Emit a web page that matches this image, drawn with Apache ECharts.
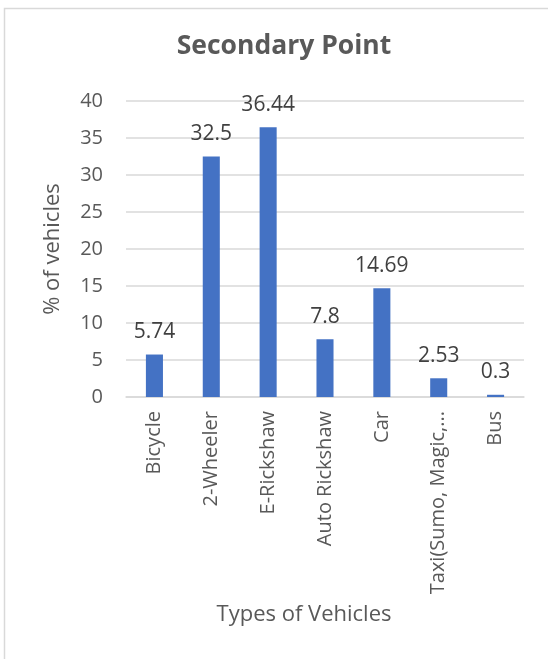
<!DOCTYPE html>
<html>
<head>
<meta charset="utf-8">
<script src="https://cdn.jsdelivr.net/npm/echarts@6/dist/echarts.min.js"></script>
<style>
  html, body { margin: 0; padding: 0; background: #fff; }
  #chart { width: 548px; height: 659px; }
</style>
</head>
<body>
<div id="chart"></div>
<script>
// Share of vehicle types counted at the secondary point
const categories = ['Bicycle', '2-Wheeler', 'E-Rickshaw', 'Auto Rickshaw', 'Car', 'Taxi(Sumo, Magic, etc.)', 'Bus'];
const shares = [5.74, 32.5, 36.44, 7.8, 14.69, 2.53, 0.3];
const yTicks = [0, 5, 10, 15, 20, 25, 30, 35, 40];

const FONT = '"Open Sans", "Noto Sans", sans-serif';
const TEXT = '#595959';

const chart = echarts.init(document.getElementById('chart'), null, { renderer: 'canvas' });
chart.setOption({
  animation: false,
  backgroundColor: '#fff',
  textStyle: { fontFamily: FONT },
  graphic: [{
    type: 'rect',
    shape: { x: 4.5, y: 8.5, width: 600, height: 700 },
    style: { fill: 'none', stroke: '#d9d9d9', lineWidth: 1.5 },
    silent: true,
    z: -1
  }],
  title: {
    text: 'Secondary Point',
    left: 279,
    top: 28,
    textAlign: 'center',
    textStyle: { fontFamily: FONT, fontSize: 26.5, fontWeight: 'bold', color: TEXT }
  },
  grid: { left: 126, right: 24, top: 101, bottom: 262, containLabel: false },
  xAxis: {
    type: 'category',
    data: categories,
    name: 'Types of Vehicles',
    nameLocation: 'middle',
    nameGap: 207,
    nameTextStyle: { fontFamily: FONT, fontSize: 22, color: TEXT, verticalAlign: 'top', padding: [0, 42, 0, 0] },
    axisLine: { show: true, lineStyle: { color: '#d9d9d9', width: 1.5 } },
    axisTick: { show: false },
    axisLabel: {
      rotate: 90,
      interval: 0,
      margin: 14,
      fontFamily: FONT,
      fontSize: 20,
      color: TEXT,
      width: 190,
      overflow: 'truncate',
      ellipsis: '...'
    }
  },
  yAxis: {
    type: 'value',
    min: yTicks[0],
    max: yTicks[yTicks.length - 1],
    interval: 5,
    name: '% of vehicles',
    nameLocation: 'middle',
    nameGap: 62,
    nameTextStyle: { fontFamily: FONT, fontSize: 22, color: TEXT },
    axisLine: { show: false },
    axisTick: { show: false },
    axisLabel: { margin: 23, fontFamily: FONT, fontSize: 20, color: TEXT },
    splitLine: { lineStyle: { color: '#d9d9d9', width: 1.5 } }
  },
  series: [{
    type: 'bar',
    data: shares,
    barWidth: '30%',
    itemStyle: { color: '#4472C4' },
    label: {
      show: true,
      position: 'top',
      distance: 12,
      fontFamily: FONT,
      fontSize: 21,
      color: '#404040'
    }
  }]
});
</script>
</body>
</html>
